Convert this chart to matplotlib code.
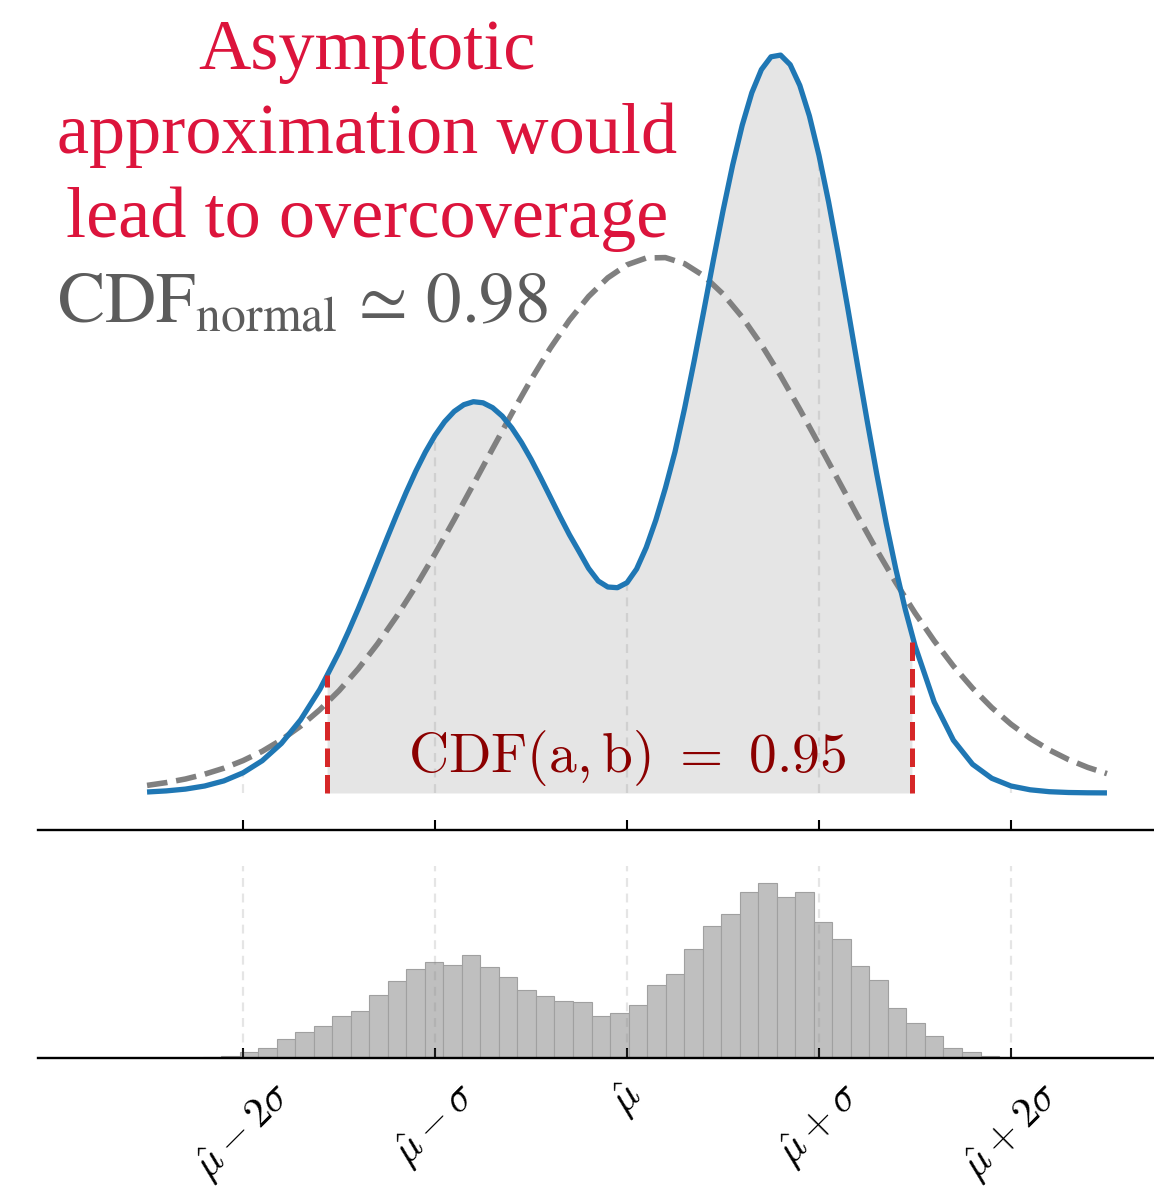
import numpy as np
import matplotlib
matplotlib.use("Agg")
import matplotlib.pyplot as plt

plt.rcParams["mathtext.fontset"] = "cm"

# ------------------------------------------------------------
# data (x in units of sigma, centred on mu-hat)
# ------------------------------------------------------------
# true (bimodal) density (arbitrary units)
x_true = [-2.5, -2.4, -2.3, -2.2, -2.1, -2.0, -1.9, -1.8, -1.7, -1.6,
          -1.5, -1.45, -1.4, -1.35, -1.3, -1.25, -1.2, -1.15, -1.1, -1.05,
          -1.0, -0.95, -0.9, -0.85, -0.8, -0.75, -0.7, -0.65, -0.6, -0.55,
          -0.5, -0.45, -0.4, -0.35, -0.3, -0.25, -0.2, -0.15, -0.1, -0.05,
          0.0, 0.05, 0.1, 0.15, 0.2, 0.25, 0.3, 0.35, 0.4, 0.45,
          0.5, 0.55, 0.6, 0.65, 0.7, 0.75, 0.8, 0.85, 0.9, 0.95,
          1.0, 1.05, 1.1, 1.15, 1.2, 1.25, 1.3, 1.35, 1.4, 1.45,
          1.5, 1.6, 1.7, 1.8, 1.9, 2.0, 2.1, 2.2, 2.3, 2.4, 2.5]
pdf_true = [1.0, 2.1, 3.9, 7.0, 12.1, 20.2, 32.3, 49.6, 73.2, 103.6,
            140.9, 161.9, 184.1, 207.2, 231.0, 254.8, 278.2, 300.8, 321.9, 341.0,
            357.6, 371.3, 381.6, 388.3, 391.3, 390.2, 385.3, 376.9, 365.1, 350.6,
            333.8, 315.3, 296.1, 276.8, 258.3, 241.6, 224.6, 212.0, 206.0, 205.3,
            210.3, 224.0, 245.5, 272.8, 305.0, 341.2, 384.7, 432.2, 482.2, 532.9,
            582.1, 627.7, 667.7, 700.2, 723.4, 736.2, 737.9, 728.3, 707.6, 677.1,
            637.6, 591.1, 539.3, 484.8, 428.6, 373.2, 319.9, 269.8, 224.1, 183.2,
            147.4, 91.0, 52.8, 28.7, 14.7, 7.0, 3.2, 1.3, 0.5, 0.2, 0.1]

# normal (asymptotic) approximation
x_norm = [-2.5, -2.4, -2.3, -2.2, -2.1, -2.0, -1.9, -1.8, -1.7, -1.6,
          -1.5, -1.4, -1.3, -1.2, -1.1, -1.0, -0.9, -0.8, -0.7, -0.6,
          -0.5, -0.4, -0.3, -0.2, -0.1, 0.0, 0.1, 0.2, 0.3, 0.4,
          0.5, 0.6, 0.7, 0.8, 0.9, 1.0, 1.1, 1.2, 1.3, 1.4,
          1.5, 1.6, 1.7, 1.8, 1.9, 2.0, 2.1, 2.2, 2.3, 2.4, 2.5]
pdf_norm = [7.6, 10.4, 14.0, 18.8, 24.8, 32.4, 41.7, 53.2, 66.9, 83.3,
            102.3, 124.2, 149.0, 176.6, 206.7, 239.2, 273.4, 308.7, 344.3, 379.5,
            413.3, 444.7, 472.8, 496.5, 515.2, 528.2, 535.0, 535.4, 529.3, 517.1,
            499.0, 475.9, 448.3, 417.3, 383.7, 348.6, 313.0, 277.5, 243.2, 210.5,
            180.1, 152.2, 127.0, 104.8, 85.4, 68.8, 54.7, 43.0, 33.4, 25.6, 19.4]

# 95% interval
a_lo, b_hi = -1.5625, 1.484

# histogram of the toy sample
hist_lo, hist_hi = -2.211, 1.938
counts = [1, 2.5, 6, 10.5, 19, 26, 32, 42, 47, 63, 77, 89, 96, 93, 103,
          91, 81, 68, 62, 57, 56, 42, 45, 53, 73, 84, 109, 132, 144, 166,
          175, 161, 166, 136, 119, 92, 78, 50, 35, 22, 10, 6, 2]

ticks = [-2, -1, 0, 1, 2]
tick_labels = [r"$\hat{\mu}-2\sigma$", r"$\hat{\mu}-\sigma$", r"$\hat{\mu}$",
               r"$\hat{\mu}+\sigma$", r"$\hat{\mu}+2\sigma$"]

# ------------------------------------------------------------
# figure
# ------------------------------------------------------------
W, H = 1154, 1192
fig = plt.figure(figsize=(W / 100, H / 100), dpi=100)
ax = fig.add_axes([38 / W, 1 - 830 / H, 1116 / W, 830 / H])
ax2 = fig.add_axes([38 / W, 1 - 1058 / H, 1116 / W, 192 / H])

xt = np.array(x_true)
pt = np.array(pdf_true)

# shaded interval
ya, yb = np.interp([a_lo, b_hi], xt, pt)
inside = (xt > a_lo) & (xt < b_hi)
xf = np.concatenate([[a_lo], xt[inside], [b_hi]])
yf = np.concatenate([[ya], pt[inside], [yb]])
ax.fill_between(xf, 0, yf, color="gray", alpha=0.2, lw=0, zorder=1)

# grid lines up to the curve
grid_h = [pt[np.isclose(xt, t)][0] for t in ticks]
ax.vlines(ticks, 0, grid_h, colors="gray", alpha=0.2, lw=1.6,
          linestyles=(0, (4, 3)), zorder=2)

ax.plot(x_norm, pdf_norm, "--", color="gray", lw=4.0, zorder=3)
ax.plot(x_true, pdf_true, color="#1f77b4", lw=3.8, zorder=4,
        solid_joinstyle="round", solid_capstyle="butt")
ax.vlines([a_lo, b_hi], 0, [ya, yb], colors="#d62728", lw=3.6,
          linestyles="--", zorder=5)

ax.text(0, 21, r"$\mathrm{CDF}(\mathrm{a},\mathrm{b})\ =\ 0.95$", ha="center",
        va="baseline", color="#8b0000", fontsize=40, zorder=6)

ax.set_xlim(-3.068, 2.745)
ax.set_ylim(-37, 793)

# histogram
edges = np.linspace(hist_lo, hist_hi, len(counts) + 1)
ax2.bar(edges[:-1], counts, width=np.diff(edges), align="edge",
        color="#bfbfbf", edgecolor="#a0a0a0", linewidth=0.8, zorder=1)
for t in ticks:
    ax2.axvline(t, color="gray", alpha=0.2, lw=1.6, ls=(0, (4, 3)), zorder=2)
ax2.set_xlim(-3.068, 2.745)
ax2.set_ylim(0, 192)

for a in (ax, ax2):
    for s in ("left", "right", "top"):
        a.spines[s].set_visible(False)
    a.spines["bottom"].set_linewidth(1.7)
    a.set_yticks([])
    a.set_xticks(ticks)
    a.tick_params(axis="x", direction="in", length=7, width=1.5, pad=12)
ax.set_xticklabels([])
ax2.set_xticklabels(tick_labels, rotation=45, fontsize=30)

# annotations (baseline of the last line)
fig.text(367 / W, 1 - 237 / H, "Asymptotic\napproximation would\nlead to overcoverage",
         ha="center", va="baseline", multialignment="center", linespacing=1.37,
         family="Liberation Serif", fontsize=52, color="#dc143c")
fig.text(57 / W, 1 - 322 / H, r"$\mathrm{CDF}_{\mathrm{normal}}\,\simeq\,0.98$",
         ha="left", va="baseline", fontsize=51, color="#5c5c5c",
         math_fontfamily="stix")

fig.savefig("out.png", dpi=100)
